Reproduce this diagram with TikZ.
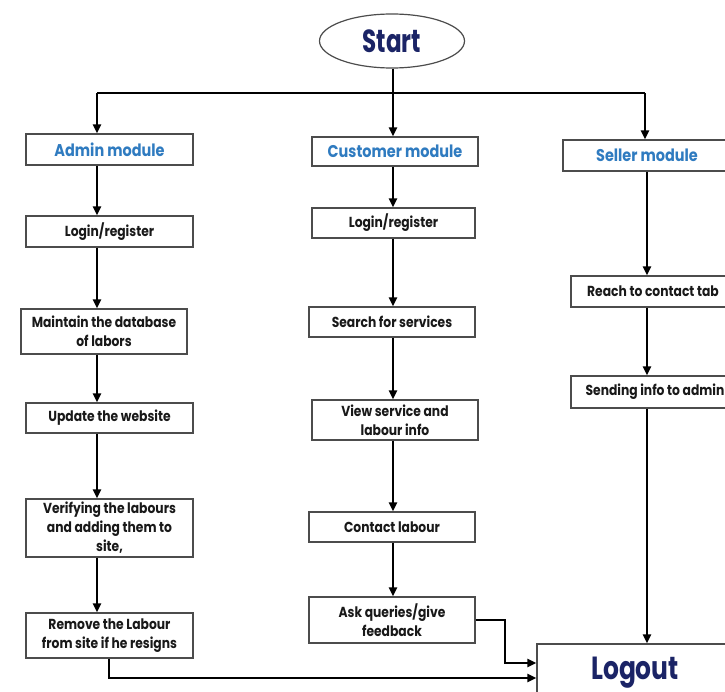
\documentclass[tikz,border=0pt]{standalone}
\usepackage{fontspec}
\setmainfont{Poppins}[FakeStretch=0.85]
\newfontfamily\startfont{Poppins}[FakeStretch=0.72]
\newfontfamily\logoutfont{Poppins}[FakeStretch=0.78]
\usetikzlibrary{arrows.meta,shapes.geometric}
\definecolor{navy}{HTML}{1B2466}
\definecolor{modblue}{HTML}{2F7BC0}
\begin{document}
\begin{tikzpicture}[x=1pt,y=-1pt,
  box/.style={draw=black!70, line width=1.2pt, fill=white, align=center, inner sep=0pt,
    font=\bfseries\fontsize{14.5}{19}\selectfont, text=black!90},
  mod/.style={box, font=\bfseries\fontsize{17}{19}\selectfont, text=modblue},
  arr/.style={line width=2.2pt, -{Triangle[length=9pt,width=8pt]}},
  ln/.style={line width=2.2pt}]
\clip (0,0) rectangle (725,692);
\useasboundingbox (0,0) rectangle (725,692);
\fill[white] (0,0) rectangle (725,692);

% Start
\node[ellipse, draw=black!70, line width=1.2pt, minimum width=145, minimum height=54,
  font=\startfont\bfseries\fontsize{32}{34}\selectfont, text=navy] (start) at (392,41) {Start};

% Admin column
\node[mod, minimum width=167, minimum height=31] (adm) at (109.5,149.5) {Admin module};
\node[box, minimum width=167, minimum height=31] (al) at (109.5,231.5) {Login/register};
\node[box, minimum width=166, minimum height=45] (am) at (104,331.5) {Maintain the database\\of labors};
\node[box, minimum width=167, minimum height=30] (au) at (109.5,418) {Update the website};
\node[box, minimum width=167, minimum height=58] (av) at (109.5,528) {Verifying the labours\\and adding them to\\site,};
\node[box, minimum width=167, minimum height=45] (ar) at (109.5,635.5) {Remove the Labour\\from site if he resigns};

% Customer column
\node[mod, minimum width=166, minimum height=29] (cm) at (395,151.5) {Customer module};
\node[box, minimum width=163, minimum height=30] (cl) at (393.5,223) {Login/register};
\node[box, minimum width=166, minimum height=30] (cs) at (392,322) {Search for services};
\node[box, minimum width=166, minimum height=40] (cv) at (395,420) {View service and\\labour info};
\node[box, minimum width=166, minimum height=30] (cc) at (392,527) {Contact labour};
\node[box, minimum width=166, minimum height=46] (cq) at (392,620) {Ask queries/give\\feedback};

% Seller column
\node[mod, minimum width=168, minimum height=31] (sm) at (647,155.5) {Seller module};
\node[box, minimum width=164, minimum height=31] (sr) at (653,291.5) {Reach to contact tab};
\node[box, minimum width=168, minimum height=32] (ss) at (655,392) {Sending info to admin};

% Logout
\node[draw=black!70, line width=1.2pt, fill=white, minimum width=196, minimum height=58,
  inner sep=0pt, font=\logoutfont\bfseries\fontsize{32}{34}\selectfont, text=navy] (lo) at (635,673) {Logout};

% coordinates
\coordinate (jL) at (97,93);
\coordinate (jR) at (645,93);
\coordinate (ax) at (97,0);
\coordinate (cx) at (393,0);
\coordinate (sx) at (647,0);
\coordinate (p1) at (109,678);
\coordinate (p2) at (505,663);

% top distribution
\draw[ln] (jL) -- (jR);
\draw[arr] (start.south -| cx) -- (cm.north -| cx);
\draw[arr] (jL) -- (adm.north -| jL);
\draw[arr] (jR) -- (sm.north -| jR);

% admin arrows
\draw[arr] (adm.south -| ax) -- (al.north -| ax);
\draw[arr] (al.south -| ax) -- (am.north -| ax);
\draw[arr] (am.south -| ax) -- (au.north -| ax);
\draw[arr] (au.south -| ax) -- (av.north -| ax);
\draw[arr] (av.south -| ax) -- (ar.north -| ax);

% customer arrows
\draw[arr] (cm.south -| cx) -- (cl.north -| cx);
\draw[arr] (cl.south -| cx) -- (cs.north -| cx);
\draw[arr] (cs.south -| cx) -- (cv.north -| cx);
\draw[arr] (cv.south -| cx) -- (cc.north -| cx);
\draw[arr] (cc.south -| cx) -- (cq.north -| cx);

% seller arrows
\draw[arr] (sm.south -| sx) -- (sr.north -| sx);
\draw[arr] (sr.south -| sx) -- (ss.north -| sx);
\draw[arr] (ss.south -| sx) -- (lo.north -| sx);

% to logout
\draw[arr] (ar.south -| p1) |- (lo.west |- p1);
\draw[arr] (cq.east) -| (p2) -- (lo.west |- p2);
\end{tikzpicture}
\end{document}
